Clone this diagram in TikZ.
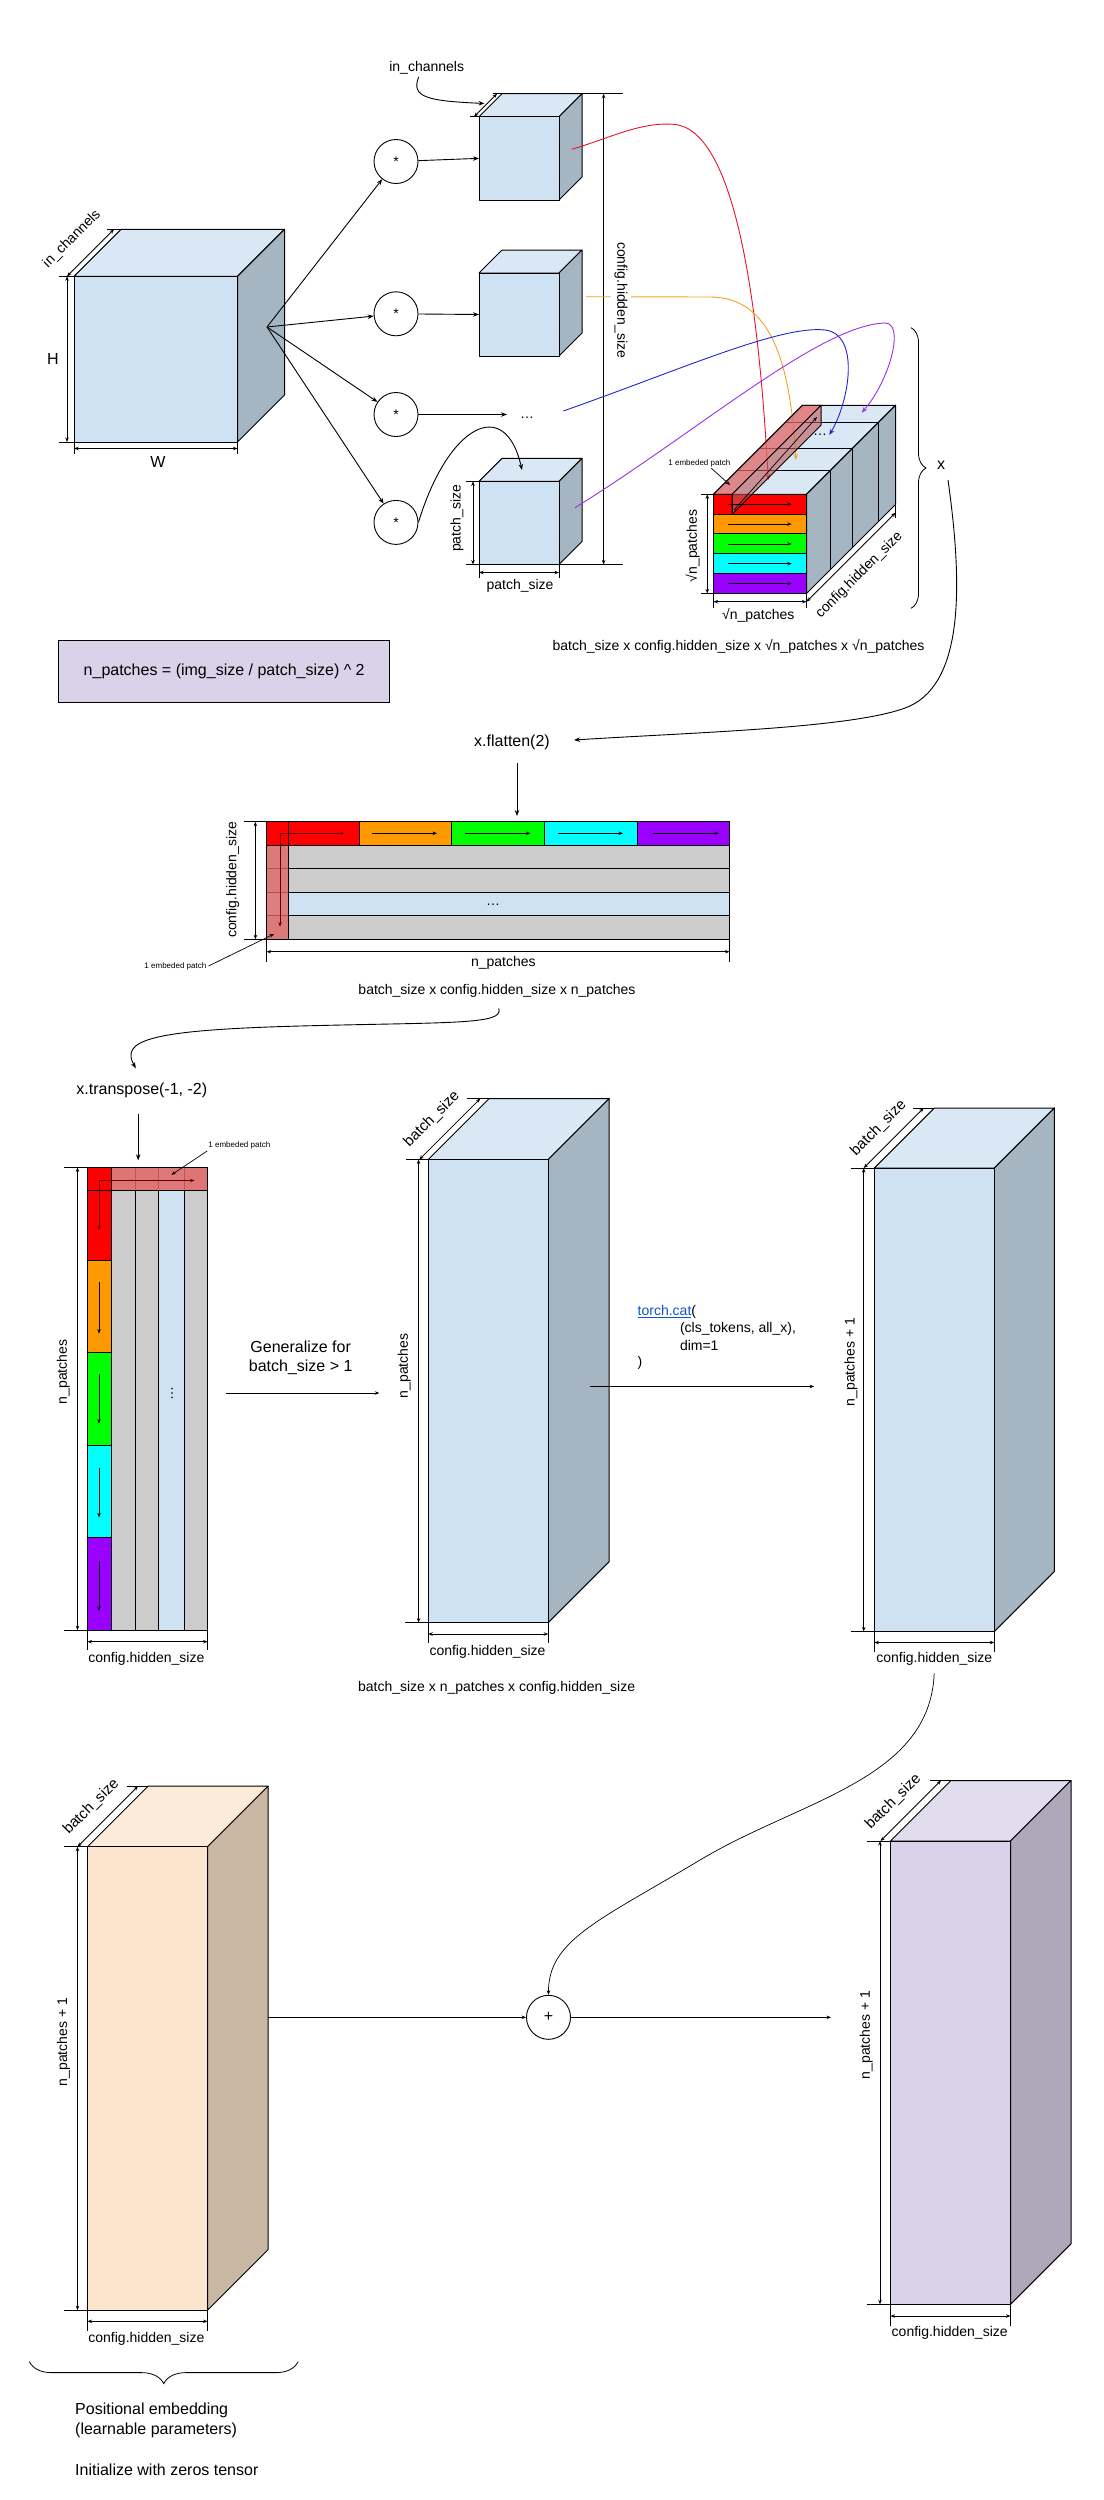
\documentclass[tikz,border=0pt]{standalone}
\usepackage{fontspec}
\setmainfont{Liberation Sans}
\usetikzlibrary{arrows.meta,decorations.pathreplacing}
\definecolor{cfront}{HTML}{CFE2F3}
\definecolor{ctop}{HTML}{DAE8F5}
\definecolor{cside}{HTML}{A5B5C2}
\definecolor{ofront}{HTML}{FCE5CD}
\definecolor{otop}{HTML}{FDEBD9}
\definecolor{oside}{HTML}{CAB7A4}
\definecolor{pfront}{HTML}{D9D2E9}
\definecolor{ptop}{HTML}{E1DCEE}
\definecolor{pside}{HTML}{AEA8BA}
\definecolor{cgray}{HTML}{CCCCCC}
\definecolor{cred}{HTML}{FF0000}
\definecolor{corange}{HTML}{FF9900}
\definecolor{cgreen}{HTML}{00FF00}
\definecolor{ccyan}{HTML}{00FFFF}
\definecolor{cpurple}{HTML}{9900FF}
\definecolor{tred}{HTML}{E06666}
\definecolor{dred}{HTML}{660000}
\definecolor{linkblue}{HTML}{1155CC}
\definecolor{lred}{HTML}{E8142A}
\definecolor{lorange}{HTML}{F1A22B}
\definecolor{lblue}{HTML}{2323D2}
\definecolor{lpurple}{HTML}{9B30E8}
\tikzset{
  edge/.style={draw=black, line width=1pt, line join=round},
  extl/.style={draw=black, line width=0.8pt},
  arr/.style={line width=0.9pt, -{Stealth[length=6pt,width=4.5pt]}},
  sarr/.style={line width=0.7pt, -{Stealth[length=4.5pt,width=3.5pt]}},
  dimline/.style={line width=0.8pt, {Stealth[length=4.5pt,width=3.5pt]}-{Stealth[length=4.5pt,width=3.5pt]}},
  lab/.style={inner sep=0pt, font=\fontsize{14}{16}\selectfont},
  big/.style={inner sep=0pt, font=\fontsize{16}{19}\selectfont},
  tiny/.style={inner sep=0pt, font=\fontsize{8}{10}\selectfont},
  circ/.style={circle, draw, line width=0.9pt, minimum size=44pt, inner sep=0pt, fill=white},
}
\newcommand{\tcube}[9]{%
  \filldraw[fill=#7, edge] (#1,#2) -- (#1+#5,#2-#5) -- (#1+#3+#5,#2-#5) -- (#1+#3,#2) -- cycle;
  \filldraw[fill=#8, edge] (#1+#3,#2) -- (#1+#3+#5,#2-#5) -- (#1+#3+#5,#2+#4-#5) -- (#1+#3,#2+#4) -- cycle;
  \node[edge, fill=#6, minimum width=#3pt, minimum height=#4pt, inner sep=0pt, outer sep=0pt, anchor=north west] (#9) at (#1,#2) {};
}
\begin{document}
\begin{tikzpicture}[x=1pt,y=-1pt]
\useasboundingbox (0,0) rectangle (1103,2500);
\fill[white] (0,0) rectangle (1103,2500);

% ================= Section 1: patch embedding =================
\tcube{74}{276.3}{163.5}{165.7}{47}{cfront}{ctop}{cside}{img}
\draw[extl] (59,276.3) -- (74,276.3) (107,229.3) -- (121,229.3) (59,442) -- (74,442)
            (74,442) -- (74,454) (237.5,442) -- (237.5,454);
\draw[dimline] (67,276.3) -- (114,229.3);
\draw[dimline] (67,276.3) -- (67,442);
\draw[dimline] (74,448.5) -- (237.5,448.5);
\node[lab, rotate=45] (inbig) at (72,239) {in\_channels};
\node[big] (hlab) at (53,359) {H};
\node[big] (wlab) at (158,462) {W};
\coordinate (fan) at (267,327);

\node[circ] (c1) at (396,161.5) {\fontsize{14}{16}\selectfont *};
\node[circ] (c2) at (396,313.8) {\fontsize{14}{16}\selectfont *};
\node[circ] (c3) at (396,414.5) {\fontsize{14}{16}\selectfont *};
\node[circ] (c4) at (396,522.4) {\fontsize{14}{16}\selectfont *};
\draw[arr] (fan) -- (c1);
\draw[arr] (fan) -- (c2);
\draw[arr] (fan) -- (c3);
\draw[arr] (fan) -- (c4);

\tcube{479}{116.7}{80}{83.3}{23}{cfront}{ctop}{cside}{k1}
\tcube{479}{273}{80}{83}{23}{cfront}{ctop}{cside}{k2}
\tcube{479}{481.4}{80}{83.1}{23}{cfront}{ctop}{cside}{k4}
\draw[arr] (c1) -- (k1.west);
\draw[arr] (c2) -- (k2.west);
\coordinate (a3) at (507,414.5);
\draw[arr] (c3) -- (a3);
\node[lab] (dots1) at (527,418) {…};
\coordinate (k4top) at (522,470);
\draw[arr] (c4.east) .. controls (448,425) and (505,395) .. (k4top);

% small in_channels
\node[lab] (inch) at (426.7,68.3) {in\_channels};
\coordinate (inchend) at (484.5,103.5);
\draw[arr] ([xshift=-8pt,yshift=-2pt]inch.south) .. controls (410,98) and (430,101) .. (inchend);
\draw[extl] (470,116.7) -- (479,116.7) (493,93.7) -- (502,93.7);
\draw[dimline] (474,116.7) -- (497,93.7);

% patch_size dims
\draw[extl] (466,481.4) -- (479,481.4) (466,564.5) -- (479,564.5) (479,564.5) -- (479,578) (559,564.5) -- (559,578);
\draw[dimline] (473,481.4) -- (473,564.5);
\draw[dimline] (479,572.5) -- (559,572.5);
\node[lab, rotate=90] (ps1) at (457,518.5) {patch\_size};
\node[lab] (ps2) at (520,585.5) {patch\_size};

% config.hidden_size big dim
\draw[extl] (582,93.7) -- (623,93.7) (559,564.5) -- (623,564.5);
\draw[dimline] (603.6,93.7) -- (603.6,564.5);

% ---- 3D tensor ----
\filldraw[fill=ctop, edge] (713.5,494.3) -- (802.5,405.3) -- (895.5,405.3) -- (806.5,494.3) -- cycle;
\filldraw[fill=cside, edge] (806.5,494.3) -- (895.5,405.3) -- (895.5,504.5) -- (806.5,593.5) -- cycle;
\foreach \s in {24,45.5,72}
  \draw[edge] (713.5+\s,494.3-\s) -- (806.5+\s,494.3-\s) -- (806.5+\s,593.5-\s);
\foreach \c [count=\i from 0] in {cred,corange,cgreen,ccyan,cpurple}
  \filldraw[fill=\c, edge] (713.5,494.3+19.84*\i) rectangle (806.5,514.14+19.84*\i);
\node[lab] (dots2) at (820,435) {…};

% coloured curves
\coordinate (rs) at (571.7,149.3);
\coordinate (re) at (768.3,480);
\coordinate (os) at (586,296.7);
\coordinate (oe) at (796,460);
\coordinate (bs) at (563.3,411);
\coordinate (be) at (829.3,435);
\coordinate (qs) at (575,507.7);
\coordinate (qe) at (861.7,412.7);
\draw[arr, draw=lred] (rs) .. controls (610,138) and (640,122) .. (673,124.3) .. controls (740,128) and (760,330) .. (re);
\draw[arr, draw=lorange] (os) -- (710,297) .. controls (770,297) and (790,360) .. (oe);
\draw[arr, draw=lblue] (bs) .. controls (680,370) and (780,325) .. (825,330) .. controls (860,334) and (850,400) .. (be);
\draw[arr, draw=lpurple] (qs) .. controls (700,430) and (820,325) .. (885,323) .. controls (905,323) and (890,380) .. (qe);

\node[lab, rotate=-90, fill=white, inner sep=3pt] (chs1) at (621,300) {config.hidden\_size};

% embedded patch bar
\filldraw[fill=tred, fill opacity=0.75, draw=black, line width=0.8pt, line join=round]
  (713.5,494.3) -- (802.5,405.3) -- (821.1,405.3) -- (732.1,494.3) -- cycle;
\filldraw[fill=tred!85!black, fill opacity=0.6, draw=black, line width=0.8pt, line join=round]
  (732.1,494.3) -- (821.1,405.3) -- (821.1,425.1) -- (732.1,514.1) -- cycle;
\draw[edge] (713.5,494.3) rectangle (732.1,514.1);
\draw[sarr] (734,510) -- (817,417);
\foreach \i in {0,...,4}
  \draw[sarr] (728.3,504.2+19.84*\i) -- (791.7,504.2+19.84*\i);

\node[tiny] (emb1) at (699.3,463.3) {1 embeded patch};
\coordinate (emb1t) at (730,485);
\draw[sarr] ([xshift=12pt,yshift=-1pt]emb1.south) -- (emb1t);

% tensor dims
\draw[extl] (700.7,494.3) -- (713.5,494.3) (700.7,593.5) -- (713.5,593.5)
            (713.5,593.5) -- (713.5,608) (806.5,593.5) -- (806.5,608) (895.5,504.5) -- (895.5,518);
\draw[dimline] (707.3,494.3) -- (707.3,593.5);
\draw[dimline] (713.5,601.7) -- (806.5,601.7);
\draw[dimline] (806.5,601.7) -- (895.5,512.7);
\node[lab, rotate=90] (sq1) at (692.7,546) {√n\_patches};
\node[lab] (sq2) at (758.3,615) {√n\_patches};
\node[lab, rotate=45] (chs2) at (859.3,575) {config.hidden\_size};

% brace x
\draw[line width=0.8pt, decorate, decoration={brace, amplitude=15pt}] (911,327.7) -- (911,608.3);
\node[big] (xlab) at (941,465) {x};

\node[lab] (dims1) at (738.5,646.7) {batch\_size x config.hidden\_size x √n\_patches x √n\_patches};

\node[draw, fill=pfront, line width=1pt, minimum width=331pt, minimum height=62.4pt, inner sep=0pt,
      font=\fontsize{16}{19}\selectfont] (npbox) at (224.2,671.5) {n\_patches = (img\_size / patch\_size) \textasciicircum\ 2};

% ================= Section 2: flatten =================
\node[big] (flat) at (512,742.3) {x.flatten(2)};
\coordinate (xs) at (948,480);
\coordinate (fe) at (574,740);
\draw[arr] (xs) .. controls (962,580) and (965,680) .. (910,706) .. controls (860,728) and (700,732) .. (fe);
\coordinate (flatb) at (517,763);
\coordinate (flatt) at (517,816);
\draw[arr] (flatb) -- (flatt);

\filldraw[fill=cgray, edge] (266.6,845.2) rectangle (729.6,868.7);
\filldraw[fill=cgray, edge] (266.6,868.7) rectangle (729.6,892.3);
\filldraw[fill=cfront, edge] (266.6,892.3) rectangle (729.6,915.8);
\filldraw[fill=cgray, edge] (266.6,915.8) rectangle (729.6,939.3);
\foreach \c [count=\i from 0] in {cred,corange,cgreen,ccyan,cpurple}
  \filldraw[fill=\c, edge] (266.6+92.6*\i,821.7) rectangle (359.2+92.6*\i,845.2);
\filldraw[fill=tred, fill opacity=0.8, edge] (266.6,845.2) rectangle (288.7,939.3);
\draw[edge] (288.7,821.7) -- (288.7,845.2);
\draw[sarr, draw=dred] (280,833.3) -- (344.6,833.3);
\draw[sarr, draw=dred] (280,833.3) -- (280,926.7);
\foreach \a/\b in {372/437, 465/530.6, 558/623, 652.6/718.8}
  \draw[sarr] (\a,833.3) -- (\b,833.3);
\node[lab] (dots3) at (493,905) {…};

\draw[extl] (244,821.7) -- (266.6,821.7) (244,939.3) -- (266.6,939.3)
            (266.6,939.3) -- (266.6,961.7) (729.6,939.3) -- (729.6,961.7);
\draw[dimline] (255.4,821.7) -- (255.4,939.3);
\draw[dimline] (266.6,951.7) -- (729.6,951.7);
\node[lab, rotate=90] (chs3) at (232.8,880) {config.hidden\_size};
\node[lab] (np1) at (503.4,963) {n\_patches};
\node[tiny] (emb2) at (175.4,966) {1 embeded patch};
\coordinate (emb2t) at (274,934);
\draw[sarr] ([xshift=2pt]emb2.east) -- (emb2t);
\node[lab] (dims2) at (497,991) {batch\_size x config.hidden\_size x n\_patches};

% ================= Section 3: transpose =================
\node[big] (tr) at (141.8,1089.9) {x.transpose(-1, -2)};
\coordinate (d2s) at (498.7,1008.3);
\coordinate (tre) at (135.8,1068.3);
\draw[arr] (d2s) .. controls (505,1025) and (450,1022) .. (300,1026) .. controls (150,1030) and (120,1040) .. (tre);
\coordinate (trb) at (138.2,1113.6);
\coordinate (trm) at (138.2,1160.3);
\draw[arr] (trb) -- (trm);

\filldraw[fill=cgray, edge] (111.5,1167.5) rectangle (135.5,1630.2);
\filldraw[fill=cgray, edge] (135.5,1167.5) rectangle (158.5,1630.2);
\filldraw[fill=cfront, edge] (158.5,1167.5) rectangle (184.3,1630.2);
\filldraw[fill=cgray, edge] (184.3,1167.5) rectangle (207.5,1630.2);
\foreach \c [count=\i from 0] in {cred,corange,cgreen,ccyan,cpurple}
  \filldraw[fill=\c, edge] (87.5,1167.5+92.54*\i) rectangle (111.5,1260.04+92.54*\i);
\filldraw[fill=tred, fill opacity=0.85, edge] (111.5,1167.5) rectangle (207.5,1190.1);
\draw[edge] (87.5,1190.1) -- (111.5,1190.1);
\draw[sarr, draw=dred] (99,1180.5) -- (194.6,1180.5);
\draw[sarr, draw=dred] (99,1180.5) -- (99,1230.3);
\foreach \a/\b in {1282/1333.6, 1373.8/1423.6, 1467.6/1517.3, 1561.3/1611}
  \draw[sarr] (99,\a) -- (99,\b);
\node[lab, rotate=90] (dots4) at (172,1393) {…};
\node[tiny] (emb3) at (239.3,1145) {1 embeded patch};
\coordinate (emb3t) at (171.4,1174.8);
\draw[sarr] ([xshift=-32pt,yshift=-2pt]emb3.south) -- (emb3t);

\draw[extl] (64.3,1167.5) -- (87.5,1167.5) (64.3,1630.2) -- (87.5,1630.2)
            (87.5,1630.2) -- (87.5,1650) (207.5,1630.2) -- (207.5,1650);
\draw[dimline] (77.5,1167.5) -- (77.5,1630.2);
\draw[dimline] (87.5,1641.7) -- (207.5,1641.7);
\node[lab, rotate=90] (np2) at (63.2,1372) {n\_patches};
\node[lab] (chs4) at (146.4,1659.3) {config.hidden\_size};

\node[big, align=center] (gen) at (300.7,1358) {Generalize for\\batch\_size > 1};
\coordinate (gs) at (226.4,1393);
\coordinate (ge) at (379.3,1393);
\draw[sarr] (gs) -- (ge);

% cube A
\tcube{428.2}{1159.5}{120}{463.1}{61}{cfront}{ctop}{cside}{cubeA}
\draw[extl] (406,1159.5) -- (428.2,1159.5) (467,1098.5) -- (489.2,1098.5) (405,1622.6) -- (428.2,1622.6)
            (428.2,1622.6) -- (428.2,1643) (548.2,1622.6) -- (548.2,1643);
\draw[dimline] (419.3,1159.5) -- (480.3,1098.5);
\draw[dimline] (418.6,1159.5) -- (418.6,1622.6);
\draw[dimline] (428.2,1634) -- (548.2,1634);
\node[lab, rotate=45, font=\fontsize{15}{17}\selectfont] (bsA) at (432,1119) {batch\_size};
\node[lab, rotate=90] (npA) at (404.3,1366) {n\_patches};
\node[lab] (chA) at (487.5,1651.7) {config.hidden\_size};
\node[lab] (dims3) at (496.6,1688.3) {batch\_size x n\_patches x config.hidden\_size};

% cat arrow and text
\coordinate (cs) at (590,1386.4);
\coordinate (ce) at (814.2,1386.4);
\draw[sarr] (cs) -- (ce);
\node[lab, anchor=west] (t1) at (637.5,1311.8) {\textcolor{linkblue}{\underline{torch.cat}}(};
\node[lab, anchor=west] (t2) at (679.8,1329) {(cls\_tokens, all\_x),};
\node[lab, anchor=west] (t3) at (679.8,1345.5) {dim=1};
\node[lab, anchor=west] (t4) at (637.5,1363) {)};

% cube B
\tcube{874.4}{1168}{120}{463.4}{60}{cfront}{ctop}{cside}{cubeB}
\draw[extl] (851.4,1168) -- (874.4,1168) (913,1108) -- (934.4,1108) (851.4,1631.4) -- (874.4,1631.4)
            (874.4,1631.4) -- (874.4,1652) (994.4,1631.4) -- (994.4,1652);
\draw[dimline] (863.7,1168) -- (923.7,1108);
\draw[dimline] (863.7,1168) -- (863.7,1631.4);
\draw[dimline] (874.4,1642.5) -- (994.4,1642.5);
\node[lab, rotate=45, font=\fontsize{15}{17}\selectfont] (bsB) at (878.6,1128) {batch\_size};
\node[lab, rotate=90] (npB) at (851,1362) {n\_patches + 1};
\node[lab] (chB) at (934.3,1659.3) {config.hidden\_size};

% ================= Section 4: positional embedding =================
\tcube{87.5}{1846.7}{120}{463.5}{60.5}{ofront}{otop}{oside}{cubeO}
\draw[extl] (64.3,1846.7) -- (87.5,1846.7) (126.6,1786.2) -- (148,1786.2) (64.3,2310.2) -- (87.5,2310.2)
            (87.5,2310.2) -- (87.5,2331) (207.5,2310.2) -- (207.5,2331);
\draw[dimline] (77.5,1846.7) -- (138,1786.2);
\draw[dimline] (77.5,1846.7) -- (77.5,2310.2);
\draw[dimline] (87.5,2321.3) -- (207.5,2321.3);
\node[lab, rotate=45, font=\fontsize{15}{17}\selectfont] (bsO) at (91.4,1806.7) {batch\_size};
\node[lab, rotate=90] (npO) at (63.6,2042) {n\_patches + 1};
\node[lab] (chO) at (146.4,2338.7) {config.hidden\_size};

\tcube{890.5}{1841}{120}{463.3}{60.5}{pfront}{ptop}{pside}{cubeP}
\draw[extl] (866.6,1841) -- (890.5,1841) (930,1780.5) -- (951,1780.5) (866.6,2304.3) -- (890.5,2304.3)
            (890.5,2304.3) -- (890.5,2326) (1010.5,2304.3) -- (1010.5,2326);
\draw[dimline] (880.5,1841) -- (941,1780.5);
\draw[dimline] (880,1841) -- (880,2304.3);
\draw[dimline] (890.5,2316) -- (1010.5,2316);
\node[lab, rotate=45, font=\fontsize{15}{17}\selectfont] (bsP) at (893.4,1801.7) {batch\_size};
\node[lab, rotate=90] (npP) at (866.2,2035) {n\_patches + 1};
\node[lab] (chP) at (949.7,2333.3) {config.hidden\_size};

\node[circ] (plus) at (548.5,2017.3) {\fontsize{16}{19}\selectfont +};
\coordinate (peout) at (268.2,2017.3);
\coordinate (pin) at (831,2017.3);
\draw[sarr] (peout) -- (plus);
\draw[sarr] (plus) -- (pin);
\coordinate (bcs) at (934.2,1673.3);
\draw[sarr] (bcs) .. controls (930,1780) and (800,1800) .. (700,1860) .. controls (600,1920) and (548,1940) .. (plus.north);

\draw[line width=0.8pt, decorate, decoration={brace, amplitude=22pt}] (298.2,2361.6) -- (29.3,2361.6);
\node[big, anchor=west] (pe1) at (75,2410.6) {Positional embedding};
\node[big, anchor=west] (pe2) at (75,2430.4) {(learnable parameters)};
\node[big, anchor=west] (pe3) at (75,2470) {Initialize with zeros tensor};
\end{tikzpicture}
\end{document}
